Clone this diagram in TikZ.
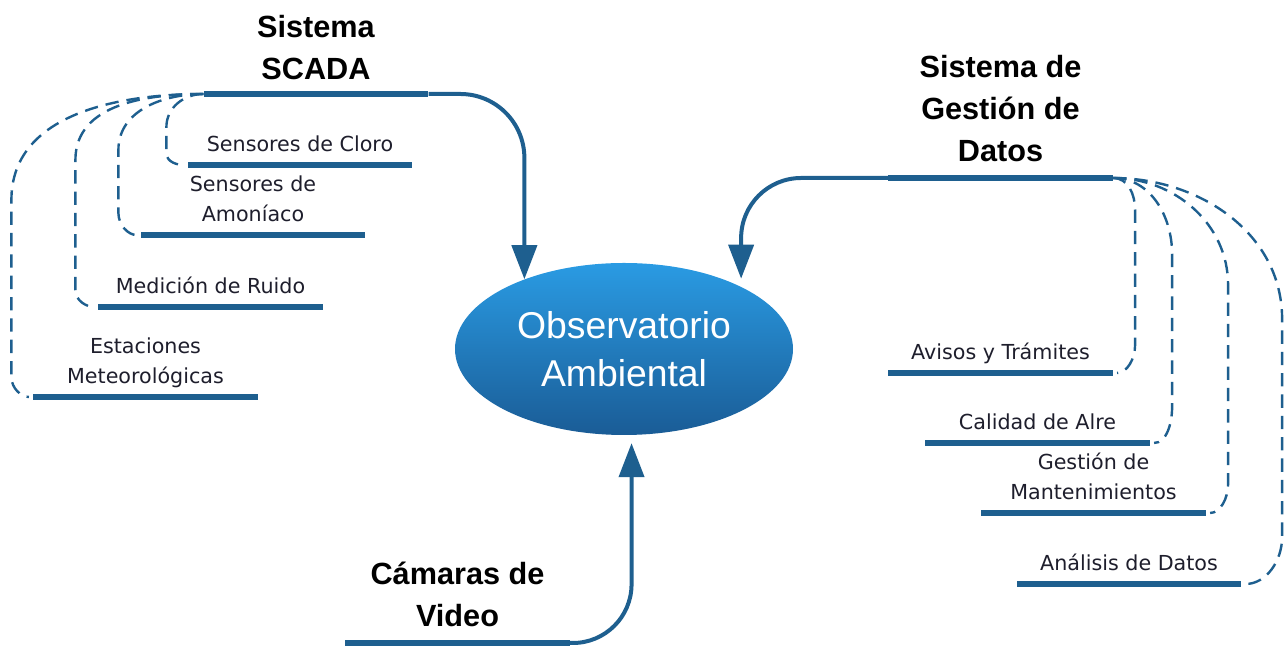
\documentclass[tikz,border=0pt]{standalone}
\usepackage{fontspec}
\setmainfont{Liberation Sans}
\newfontfamily\labelfont{DejaVu Sans}
\usepackage{tikz}
\usetikzlibrary{arrows.meta, calc, positioning, shapes.geometric}
\usepackage{xcolor}
\definecolor{LineBlue}{HTML}{1E5F8F}
\definecolor{TopBlue}{HTML}{2A9BE3}
\definecolor{DeepBlue}{HTML}{1A5C96}
\definecolor{InkDark}{HTML}{1E1E2C}
\tikzset{%
  bar/.style={%
    rectangle,%
    fill=LineBlue,%
    inner sep=0pt,%
    minimum width=168.5pt,%
    minimum height=4.5pt,%
  },
  heading/.style={%
    inner sep=0pt,%
    text depth=0pt,%
    text=black,%
    font={\bfseries\fontsize{23}{31.5}\selectfont},%
    align=center,%
  },
  annotate/.style={%
    inner sep=0pt,%
    text depth=0pt,%
    text=InkDark,%
    font={\labelfont\fontsize{15.5}{22.5}\selectfont},%
    align=center,%
  },
  hub/.style={%
    ellipse,%
    inner sep=0pt,%
    minimum width=253.5pt,%
    minimum height=129pt,%
    top color=TopBlue,%
    bottom color=DeepBlue,%
    text=white,%
    font={\fontsize{28}{36}\selectfont},%
    align=center,%
  },
  feed_path/.style={%
    color=LineBlue,%
    line width=3pt,%
    line join=round,%
  },
  branch_path/.style={%
    color=LineBlue,%
    line width=1.8pt,%
    dash pattern=on 10pt off 6pt,%
    shorten >=3pt,%
  },
  arrow/.style={-{Triangle[length=25.5pt, width=18.75pt]}},
}
\begin{document}
\begin{tikzpicture}[x=0.75pt, y=0.75pt]
  \useasboundingbox (0, 0) rectangle (1288, 648);

  \node [hub] (obs) at (624, 299) {Observatorio\\Ambiental};

  \node [bar] (scada_bar) at (316, 554) {};
  \node [heading, above = 11 of scada_bar] (scada) {Sistema\\SCADA};
  \node [bar] (cloro_bar) at (300, 483) {};
  \node [annotate, above = 10 of cloro_bar] (cloro) {Sensores de Cloro};
  \node [bar] (amoniaco_bar) at (253, 413) {};
  \node [annotate, above = 10 of amoniaco_bar] (amoniaco) {Sensores de\\Amoníaco};
  \node [bar] (ruido_bar) at (210.5, 341) {};
  \node [annotate, above = 10 of ruido_bar] (ruido) {Medición de Ruido};
  \node [bar] (estaciones_bar) at (145.5, 251) {};
  \node [annotate, above = 10 of estaciones_bar] (estaciones) {Estaciones\\Meteorológicas};

  \node [bar] (gestion_bar) at (1000.5, 470) {};
  \node [heading, above = 13 of gestion_bar] (gestion) {Sistema de\\Gestión de\\Datos};
  \node [bar] (avisos_bar) at (1000.5, 275) {};
  \node [annotate, above = 10 of avisos_bar] (avisos) {Avisos y Trámites};
  \node [bar] (calidad_bar) at (1037.5, 205) {};
  \node [annotate, above = 10 of calidad_bar] (calidad) {Calidad de Alre};
  \node [bar] (mant_bar) at (1093.5, 135) {};
  \node [annotate, above = 10 of mant_bar] (mant) {Gestión de\\Mantenimientos};
  \node [bar] (analisis_bar) at (1129, 64) {};
  \node [annotate, above = 10 of analisis_bar] (analisis) {Análisis de Datos};

  \node [bar] (camaras_bar) at (457.5, 5) {};
  \node [heading, above = 13 of camaras_bar] (camaras) {Cámaras de\\Video};

  \draw [arrow, feed_path, rounded corners=48pt]
    (scada_bar.east) -| (obs.145);
  \draw [arrow, feed_path, rounded corners=45pt, shorten >=6pt]
    (gestion_bar.west) -| (obs.28);
  \draw [arrow, feed_path, rounded corners=44pt, shorten >=6pt]
    (camaras_bar.east) -| (obs.-85);

  \draw [branch_path]
    (scada_bar.west) to [out=180, in=90] ++(-37, -33)
    -- ++(0, -26) to [out=-90, in=180] (cloro_bar.west);
  \draw [branch_path]
    (scada_bar.west) to [out=180, in=90] ++(-85, -56)
    -- ++(0, -63) to [out=-90, in=180] (amoniaco_bar.west);
  \draw [branch_path]
    (scada_bar.west) to [out=180, in=90] ++(-128, -66)
    -- ++(0, -130) to [out=-90, in=180] (ruido_bar.west);
  \draw [branch_path]
    (scada_bar.west) to [out=180, in=90] ++(-192, -106)
    -- ++(0, -177) to [out=-90, in=180] (estaciones_bar.west);

  \draw [branch_path]
    (gestion_bar.east) to [out=0, in=90] ++(22, -32)
    -- ++(0, -135) to [out=-90, in=0] (avisos_bar.east);
  \draw [branch_path]
    (gestion_bar.east) to [out=0, in=90] ++(59, -76)
    -- ++(0, -153) to [out=-90, in=0] (calidad_bar.east);
  \draw [branch_path]
    (gestion_bar.east) to [out=0, in=90] ++(115, -107)
    -- ++(0, -199) to [out=-90, in=0] (mant_bar.east);
  \draw [branch_path]
    (gestion_bar.east) to [out=0, in=90] ++(169, -141)
    -- ++(0, -218) to [out=-90, in=0] (analisis_bar.east);
\end{tikzpicture}
\end{document}
